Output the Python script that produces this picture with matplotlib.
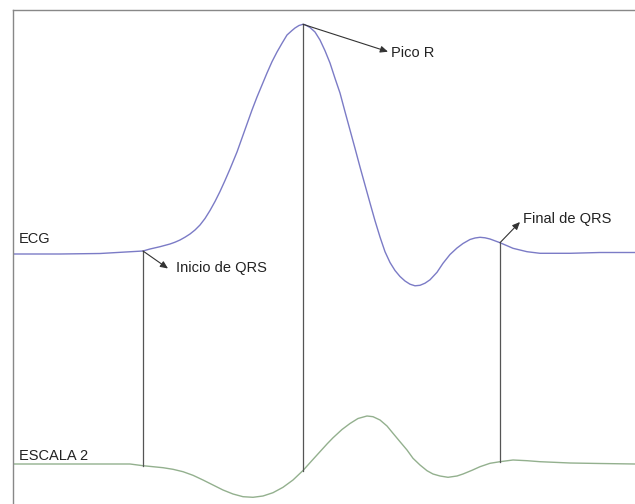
import matplotlib.pyplot as plt
import numpy as np

plt.rcParams['font.family'] = ['Liberation Sans', 'DejaVu Sans']

# ECG trace (sample index, amplitude)
ecg_t = [0, 47, 87, 130, 137, 147, 157, 162, 167, 172, 177, 182, 187, 192, 197, 202,
         207, 212, 217, 224, 229, 234, 239, 244, 249, 254, 259, 264, 269, 274, 279,
         282, 286, 290, 292, 297, 302, 307, 312, 317, 322, 327, 332, 337, 342, 347,
         352, 357, 362, 367, 372, 377, 382, 387, 392, 397, 402, 407, 412, 417, 424,
         430, 437, 444, 450, 457, 462, 467, 472, 477, 487, 494, 500, 514, 527, 557,
         587, 622]
ecg_a = [0, 0, 0.005, 0.03, 0.05, 0.073, 0.10, 0.118, 0.14, 0.168, 0.20, 0.24, 0.29,
         0.355, 0.435, 0.525, 0.625, 0.735, 0.85, 1.02, 1.16, 1.30, 1.44, 1.57, 1.69,
         1.81, 1.923, 2.02, 2.107, 2.19, 2.235, 2.26, 2.285, 2.297, 2.293, 2.265,
         2.22, 2.14, 2.033, 1.91, 1.757, 1.61, 1.423, 1.24, 1.057, 0.87, 0.69, 0.51,
         0.333, 0.17, 0.023, -0.085, -0.165, -0.225, -0.27, -0.302, -0.318, -0.313,
         -0.292, -0.258, -0.183, -0.093, -0.005, 0.06, 0.105, 0.145, 0.16, 0.167,
         0.162, 0.15, 0.113, 0.083, 0.057, 0.023, 0.007, 0.007, 0.015, 0.015]

# wavelet detail, scale 2
esc_t = [0, 87, 117, 130, 140, 150, 160, 170, 180, 190, 200, 210, 220, 230, 240, 250,
         260, 270, 280, 290, 299, 304, 309, 314, 320, 329, 337, 345, 354, 360, 367,
         374, 380, 387, 394, 400, 407, 414, 420, 427, 435, 444, 450, 459, 467, 477,
         487, 500, 514, 527, 557, 587, 622]
esc_a = [0, 0, 0, -0.017, -0.027, -0.037, -0.053, -0.077, -0.113, -0.16, -0.21, -0.26,
         -0.30, -0.327, -0.333, -0.32, -0.287, -0.233, -0.16, -0.065, 0.035, 0.09,
         0.145, 0.20, 0.262, 0.345, 0.405, 0.455, 0.48, 0.473, 0.44, 0.38, 0.307,
         0.223, 0.14, 0.057, -0.01, -0.067, -0.10, -0.12, -0.133, -0.12, -0.10, -0.063,
         -0.027, 0.007, 0.023, 0.04, 0.033, 0.023, 0.01, 0.005, 0]

# detected points: onset, R peak, end of QRS
marks = [130, 290, 487]
mark_labels = ['Inicio de QRS', 'Pico R', 'Final de QRS']
# arrow tip / label position relative to the point (samples, amplitude)
arrow_tip = [(25, -0.175), (85, -0.274), (20, 0.207)]
label_pos = [(33, -0.167), (88, -0.29), (23, 0.237)]

esc_offset = -2.10

fig = plt.figure(figsize=(6.35, 5.04), dpi=100)
ax = fig.add_axes([13 / 635, 0, 622 / 635, 494 / 504])

ax.plot(ecg_t, ecg_a, color='#7b7bc6', lw=1.0)
ax.plot(esc_t, np.array(esc_a) + esc_offset, color='#93b08e', lw=1.0)

for m, lab, tip, lp in zip(marks, mark_labels, arrow_tip, label_pos):
    top = np.interp(m, ecg_t, ecg_a)
    bot = np.interp(m, esc_t, esc_a) + esc_offset
    ax.plot([m, m], [top, bot], color='#555555', lw=0.9)
    ax.annotate('', xy=(m + tip[0], top + tip[1]), xytext=(m, top),
                arrowprops=dict(arrowstyle='-|>,head_length=0.45,head_width=0.2',
                                color='#333333', lw=0.8, shrinkA=0, shrinkB=0))
    ax.text(m + lp[0], top + lp[1], lab, fontsize=10.5, color='#222222',
            ha='left', va='center')

ax.text(6, 0.15, 'ECG', fontsize=10.5, color='#222222', ha='left', va='center')
ax.text(6, esc_offset + 0.085, 'ESCALA 2', fontsize=10.5, color='#222222',
        ha='left', va='center')

ax.set_xlim(0, 622)
ax.set_ylim(-2.50, 2.44)
ax.set_xticks([])
ax.set_yticks([])
for side in ['right', 'bottom']:
    ax.spines[side].set_visible(False)
for side in ['left', 'top']:
    ax.spines[side].set_color('#888888')
    ax.spines[side].set_linewidth(1.0)

fig.savefig('out.png', dpi=100)
